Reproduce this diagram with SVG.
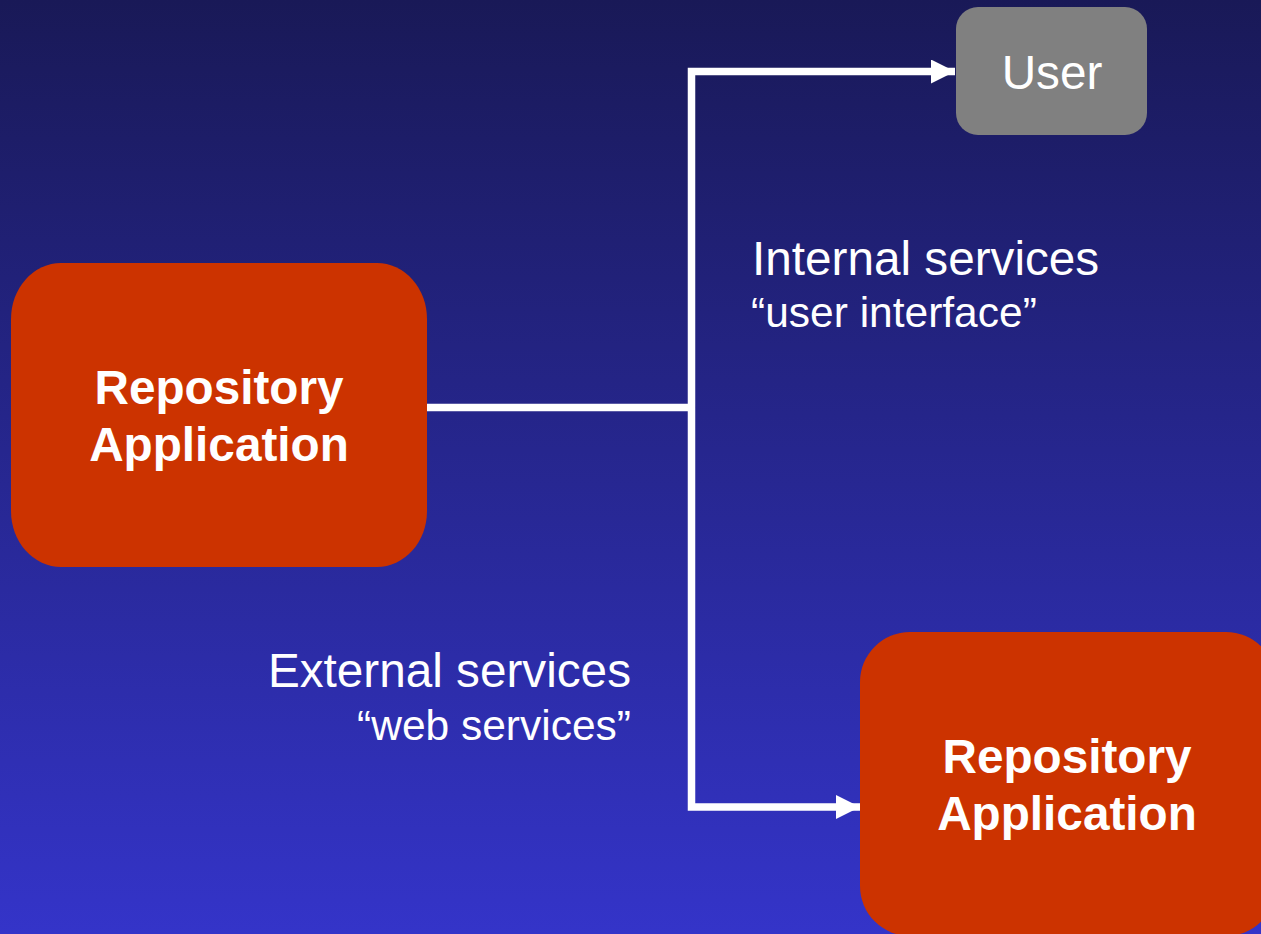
<svg xmlns="http://www.w3.org/2000/svg" width="1261" height="934" viewBox="0 0 1261 934">
<defs>
<linearGradient id="bg" x1="0" y1="0" x2="0" y2="1">
<stop offset="0" stop-color="#191957"/>
<stop offset="1" stop-color="#3434c9"/>
</linearGradient>
<marker id="arr" markerUnits="userSpaceOnUse" markerWidth="26" markerHeight="26" refX="24" refY="12" orient="auto">
<path d="M0,0 L24,12 L0,24 Z" fill="#ffffff"/>
</marker>
<style>
.lbl{font-family:"Liberation Sans",Arial,sans-serif;fill:#ffffff}
.big{font-size:47.7px}
.small{font-size:42.5px}
.bold{font-size:47.7px;font-weight:bold}
.conn{fill:none;stroke:#ffffff;stroke-width:7.5}
</style>
</defs>
<rect x="0" y="0" width="1261" height="934" fill="url(#bg)"/>
<g id="connectors">
<path class="conn" d="M427,407.5 H695"/>
<path class="conn" d="M691.5,407.5 V71.5 H955" marker-end="url(#arr)"/>
<path class="conn" d="M691.5,407.5 V807 H860" marker-end="url(#arr)"/>
</g>
<g id="repo1">
<rect x="11" y="263" width="416" height="304" rx="50" ry="56" fill="#cc3300"/>
<text class="lbl bold" x="219" y="404" text-anchor="middle">Repository</text>
<text class="lbl bold" x="219" y="461" text-anchor="middle">Application</text>
</g>
<g id="user">
<rect x="956" y="7" width="191" height="128" rx="22" ry="22" fill="#808080"/>
<text class="lbl big" x="1052" y="89" text-anchor="middle">User</text>
</g>
<g id="repo2">
<rect x="860" y="632" width="416" height="304" rx="50" ry="50" fill="#cc3300"/>
<text class="lbl bold" x="1067" y="773" text-anchor="middle">Repository</text>
<text class="lbl bold" x="1067" y="830" text-anchor="middle">Application</text>
</g>
<g id="internal-label">
<text class="lbl big" x="752" y="275">Internal services</text>
<text class="lbl small" x="751" y="327">“user interface”</text>
</g>
<g id="external-label">
<text class="lbl big" x="631" y="687" text-anchor="end">External services</text>
<text class="lbl small" x="631" y="740" text-anchor="end">“web services”</text>
</g>
</svg>
